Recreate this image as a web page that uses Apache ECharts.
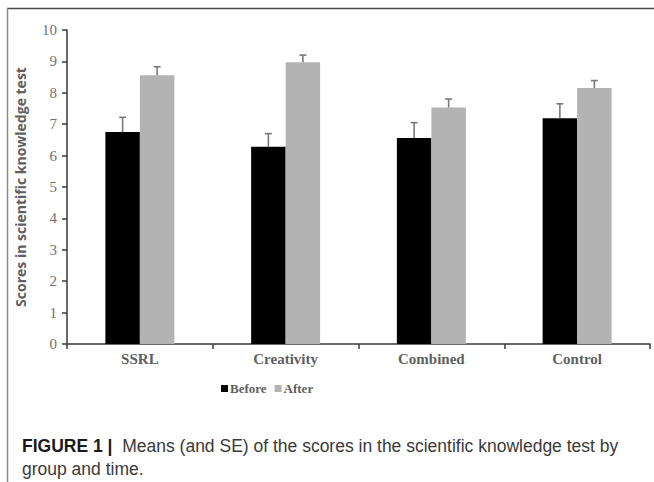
<!DOCTYPE html>
<html>
<head>
<meta charset="utf-8">
<script src="https://cdn.jsdelivr.net/npm/echarts@6/dist/echarts.min.js"></script>
<style>
  html, body { margin: 0; padding: 0; background: #fff; }
  #chart { width: 654px; height: 482px; }
</style>
</head>
<body>
<div id="chart"></div>
<script>
// Groups and time points
var categories = ['SSRL', 'Creativity', 'Combined', 'Control'];
var seriesNames = ['Before', 'After'];

// Mean scores per group
var beforeMeans = [6.75, 6.28, 6.56, 7.19];
var afterMeans = [8.56, 8.97, 7.53, 8.15];

// Standard errors (drawn upward only)
var beforeSE = [0.47, 0.42, 0.49, 0.46];
var afterSE = [0.27, 0.23, 0.27, 0.24];

// Y axis ticks
var yMin = 0, yMax = 10, yStep = 1;

var BAR_W = 34.5;
var serif = '"Liberation Serif", "Times New Roman", serif';
var axisGrey = '#5f5f5f';

function errorSeries(means, ses, offset) {
  var data = means.map(function (m, i) { return [i, m, m + ses[i]]; });
  return {
    type: 'custom',
    silent: true,
    z: 5,
    data: data,
    renderItem: function (params, api) {
      var i = api.value(0);
      var low = api.coord([i, api.value(1)]);
      var high = api.coord([i, api.value(2)]);
      var x = low[0] + offset;
      var cap = 3.5;
      var style = { stroke: '#7a7a7a', lineWidth: 1.6 };
      return {
        type: 'group',
        children: [
          { type: 'line', shape: { x1: x, y1: low[1], x2: x, y2: high[1] }, style: style },
          { type: 'line', shape: { x1: x - cap, y1: high[1], x2: x + cap, y2: high[1] }, style: style }
        ]
      };
    }
  };
}

var chart = echarts.init(document.getElementById('chart'), null, { renderer: 'svg' });

chart.setOption({
  animation: false,
  backgroundColor: '#ffffff',
  grid: { left: 67, right: 4, top: 30, bottom: 138, containLabel: false },
  legend: {
    data: seriesNames,
    left: 216,
    top: 377,
    itemWidth: 7,
    itemHeight: 7,
    itemGap: 8,
    icon: 'rect',
    textStyle: { fontFamily: serif, fontWeight: 'bold', fontSize: 13, color: axisGrey, padding: [0, 0, 0, -3] }
  },
  xAxis: {
    type: 'category',
    data: categories,
    axisLine: { lineStyle: { color: '#3a3a3a', width: 1.5 } },
    axisTick: { show: true, alignWithLabel: false, length: 5, lineStyle: { color: '#3a3a3a', width: 1.5 } },
    axisLabel: { fontFamily: serif, fontWeight: 'bold', fontSize: 15, color: axisGrey, margin: 7 }
  },
  yAxis: {
    type: 'value',
    min: yMin,
    max: yMax,
    interval: yStep,
    name: 'Scores in scientific knowledge test',
    nameLocation: 'middle',
    nameGap: 40,
    nameRotate: 90,
    nameTextStyle: { fontFamily: '"Open Sans", sans-serif', fontWeight: 'bold', fontSize: 14, color: axisGrey },
    axisLine: { show: true, lineStyle: { color: '#3a3a3a', width: 1.5 } },
    axisTick: { show: true, length: 5, lineStyle: { color: '#3a3a3a', width: 1.5 } },
    axisLabel: { fontFamily: serif, fontSize: 15, color: '#707070', margin: 10 },
    splitLine: { show: false }
  },
  series: [
    {
      name: seriesNames[0],
      type: 'bar',
      data: beforeMeans,
      barWidth: BAR_W,
      barGap: '0%',
      itemStyle: { color: '#000000' }
    },
    {
      name: seriesNames[1],
      type: 'bar',
      data: afterMeans,
      barWidth: BAR_W,
      barGap: '0%',
      itemStyle: { color: '#b3b3b3' }
    },
    errorSeries(beforeMeans, beforeSE, -BAR_W / 2),
    errorSeries(afterMeans, afterSE, BAR_W / 2)
  ],
  graphic: [
    { type: 'line', shape: { x1: 7, y1: 8.5, x2: 654, y2: 8.5 }, style: { stroke: '#4a4a4a', lineWidth: 1.6 } },
    { type: 'line', shape: { x1: 7.5, y1: 8, x2: 7.5, y2: 482 }, style: { stroke: '#8a8a8a', lineWidth: 1.5 } },
    {
      type: 'text',
      left: 22,
      top: 434,
      style: {
        text: '{b|FIGURE 1 |}  Means (and SE) of the scores in the scientific knowledge test by\ngroup and time.',
        fontFamily: '"Liberation Sans", Arial, sans-serif',
        fontSize: 17.5,
        lineHeight: 23,
        fill: '#3a3a3a',
        rich: {
          b: { fontFamily: '"Liberation Sans", Arial, sans-serif', fontWeight: 'bold', fontSize: 17.5, lineHeight: 23, fill: '#1a1a1a' }
        }
      }
    }
  ]
});
</script>
</body>
</html>
